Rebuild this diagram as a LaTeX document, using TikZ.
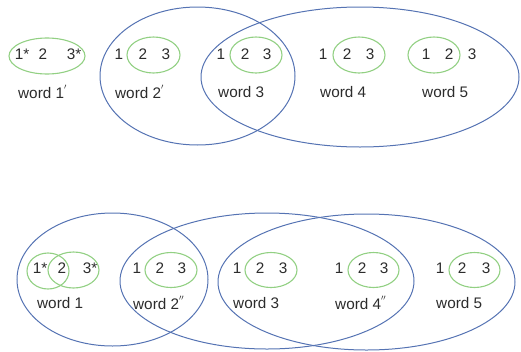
\documentclass[tikz,border=0pt]{standalone}
\usepackage{fontspec}
\setmainfont{Liberation Sans}
\definecolor{setblue}{HTML}{5573B3}
\definecolor{setgreen}{HTML}{92D083}
\definecolor{inkgray}{HTML}{2C2C2C}
% small raised marks after the word labels
\newcommand{\onemark}{\raisebox{1.1ex}{\fontsize{8}{8}\selectfont$\prime$}}
\newcommand{\twomark}{\raisebox{1.1ex}{\fontsize{8}{8}\selectfont$\prime\prime$}}
\begin{document}
\begin{tikzpicture}[x=1pt,y=-1pt,
  txt/.style={inner sep=0pt,text=inkgray,font=\fontsize{15.3}{18}\selectfont},
  lbl/.style={txt,anchor=west},
  bigset/.style={draw=setblue,line width=1pt},
  smallset/.style={draw=setgreen,line width=1.1pt}]
\useasboundingbox (0,0) rectangle (521,351);

% ---------- upper row ----------
\draw[bigset] (197.5,76) ellipse [x radius=97.5pt, y radius=69pt];
\draw[bigset] (360,77) ellipse [x radius=159pt, y radius=70pt];

\draw[smallset] (47,56) ellipse [x radius=38pt, y radius=18pt];
\draw[smallset] (153.5,55) ellipse [x radius=26.5pt, y radius=18pt];
\draw[smallset] (256,55) ellipse [x radius=26pt, y radius=18pt];
\draw[smallset] (359,55) ellipse [x radius=26pt, y radius=18pt];
\draw[smallset] (434,55) ellipse [x radius=26pt, y radius=18pt];

\node[txt] (ua1) at (22,54) {1*};
\node[txt] (ua2) at (43,54) {2};
\node[txt] (ua3) at (74,54) {3*};
\node[txt] (ub1) at (119,54) {1};
\node[txt] (ub2) at (143,54) {2};
\node[txt] (ub3) at (166,54) {3};
\node[txt] (uc1) at (221,54) {1};
\node[txt] (uc2) at (245,54) {2};
\node[txt] (uc3) at (267,54) {3};
\node[txt] (ud1) at (323,54) {1};
\node[txt] (ud2) at (347,54) {2};
\node[txt] (ud3) at (370,54) {3};
\node[txt] (ue1) at (426,54) {1};
\node[txt] (ue2) at (449,54) {2};
\node[txt] (ue3) at (472,54) {3};

\node[lbl] (uw1) at (18,92) {word 1\onemark};
\node[lbl] (uw2) at (115,92) {word 2\onemark};
\node[lbl] (uw3) at (218,92) {word 3};
\node[lbl] (uw4) at (320,92) {word 4};
\node[lbl] (uw5) at (422,92) {word 5};

% ---------- lower row ----------
\draw[bigset] (112.5,279.5) ellipse [x radius=95.5pt, y radius=66.5pt];
\draw[bigset] (267,281) ellipse [x radius=147pt, y radius=68pt];
\draw[bigset] (366.5,282) ellipse [x radius=148.5pt, y radius=68pt];

\draw[smallset] (48,271) ellipse [x radius=21pt, y radius=18pt];
\draw[smallset] (73.5,270) ellipse [x radius=25.5pt, y radius=18pt];
\draw[smallset] (171,270) ellipse [x radius=26pt, y radius=17.5pt];
\draw[smallset] (271,270) ellipse [x radius=26pt, y radius=17.5pt];
\draw[smallset] (373.5,270) ellipse [x radius=25.5pt, y radius=17.5pt];
\draw[smallset] (474.5,270) ellipse [x radius=25.5pt, y radius=17.5pt];

\node[txt] (la1) at (40,268) {1*};
\node[txt] (la2) at (62,268) {2};
\node[txt] (la3) at (90,268) {3*};
\node[txt] (lb1) at (137,268) {1};
\node[txt] (lb2) at (160,268) {2};
\node[txt] (lb3) at (182,268) {3};
\node[txt] (lc1) at (237,268) {1};
\node[txt] (lc2) at (260,268) {2};
\node[txt] (lc3) at (283,268) {3};
\node[txt] (ld1) at (339,268) {1};
\node[txt] (ld2) at (362,268) {2};
\node[txt] (ld3) at (384,268) {3};
\node[txt] (le1) at (440,268) {1};
\node[txt] (le2) at (462,268) {2};
\node[txt] (le3) at (486,268) {3};

\node[lbl] (lw1) at (37,303) {word 1};
\node[lbl] (lw2) at (133,303) {word 2\twomark};
\node[lbl] (lw3) at (233,303) {word 3};
\node[lbl] (lw4) at (335,303) {word 4\twomark};
\node[lbl] (lw5) at (436,303) {word 5};
\end{tikzpicture}
\end{document}
